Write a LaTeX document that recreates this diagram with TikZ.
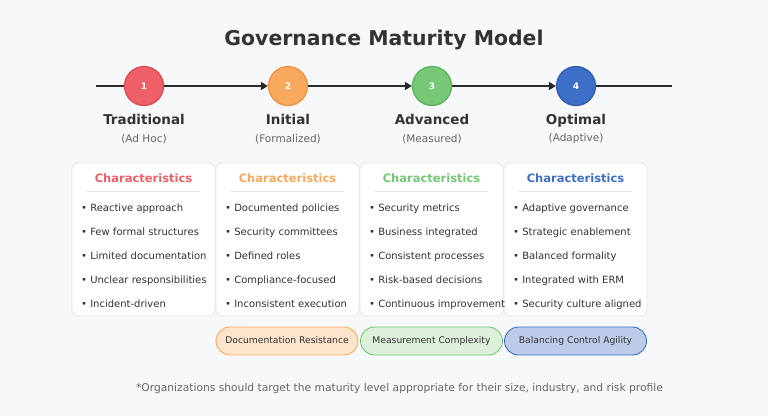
\documentclass[tikz,border=0pt]{standalone}
\usepackage{fontspec}
\setmainfont{DejaVu Sans}
\usetikzlibrary{arrows.meta}

\definecolor{bgpage}{HTML}{F7F8FA}
\definecolor{inkdark}{HTML}{333333}
\definecolor{inkgray}{HTML}{666666}
\definecolor{cardline}{HTML}{E2E4E8}
\definecolor{redlvl}{HTML}{EE5F67}
\definecolor{redrim}{HTML}{D9474F}
\definecolor{orglvl}{HTML}{F9A95D}
\definecolor{orgrim}{HTML}{EE9240}
\definecolor{grnlvl}{HTML}{76C776}
\definecolor{grnrim}{HTML}{5AAF5A}
\definecolor{blulvl}{HTML}{3E6FC8}
\definecolor{blurim}{HTML}{2F5BAA}
\definecolor{orgpale}{HTML}{FDE5CB}
\definecolor{grnpale}{HTML}{DDF1DA}
\definecolor{blupale}{HTML}{BCCBE8}

\begin{document}
\begin{tikzpicture}[x=1pt,y=-1pt,
  level/.style={circle,minimum size=39pt,inner sep=0pt,line width=1.2pt,text=white,font=\fontsize{9}{9}\selectfont\bfseries},
  stagename/.style={anchor=base,font=\fontsize{13.5}{14}\selectfont\bfseries,text=inkdark},
  stagesub/.style={font=\fontsize{10.5}{11}\selectfont,text=inkgray},
  card/.style={draw=cardline,fill=white,rounded corners=5pt,line width=0.8pt,minimum width=143pt,minimum height=153pt,inner sep=0pt},
  cardhead/.style={font=\fontsize{11.5}{12}\selectfont\bfseries},
  item/.style={anchor=base west,inner sep=0pt,font=\fontsize{10}{11}\selectfont,text=inkdark},
  pill/.style={rounded corners=14pt,line width=0.9pt,minimum width=142pt,minimum height=28pt,inner sep=0pt,text height=7pt,text depth=2pt,font=\fontsize{9.2}{10}\selectfont,text=inkdark},
  flow/.style={line width=2.3pt,draw=inkdark!80!black}]
\tikzstyle{every node}+=[inner sep=0pt]
\useasboundingbox (0,0) rectangle (768,416);
\fill [bgpage] (0,0) rectangle (768,416);

% title
\node (title) at (384,40) {\fontsize{20.4}{21}\selectfont\bfseries\color{inkdark}Governance Maturity Model};

% timeline
\coordinate (start) at (96,86);
\coordinate (stop) at (672,86);
\node [level,fill=redlvl,draw=redrim] (c1) at (144,86) {1};
\node [level,fill=orglvl,draw=orgrim] (c2) at (288,86) {2};
\node [level,fill=grnlvl,draw=grnrim] (c3) at (432,86) {3};
\node [level,fill=blulvl,draw=blurim] (c4) at (576,86) {4};
\draw [flow] (start) -- (c1);
\draw [flow,-{Triangle[length=7pt,width=8pt]}] (c1) -- (c2);
\draw [flow,-{Triangle[length=7pt,width=8pt]}] (c2) -- (c3);
\draw [flow,-{Triangle[length=7pt,width=8pt]}] (c3) -- (c4);
\draw [flow] (c4) -- (stop);

% stage names
\node [stagename] (l1) at (144,124) {Traditional};
\node [stagename] (l2) at (288,124) {Initial};
\node [stagename] (l3) at (432,124) {Advanced};
\node [stagename] (l4) at (576,124) {Optimal};
\node [stagesub] (s1) at (144,139) {(Ad Hoc)};
\node [stagesub] (s2) at (288,139) {(Formalized)};
\node [stagesub] (s3) at (432,139) {(Measured)};
\node [stagesub] (s4) at (576,139) {(Adaptive)};

% cards
\node [card] (k1) at (143.5,239.5) {};
\node [card] (k2) at (287.5,239.5) {};
\node [card] (k3) at (431.5,239.5) {};
\node [card] (k4) at (575.5,239.5) {};
\node [cardhead,text=redlvl] (h1) at (143.5,178) {Characteristics};
\node [cardhead,text=orglvl] (h2) at (287.5,178) {Characteristics};
\node [cardhead,text=grnlvl] (h3) at (431.5,178) {Characteristics};
\node [cardhead,text=blulvl] (h4) at (575.5,178) {Characteristics};
\draw [cardline,line width=0.8pt] (87,191) -- (200,191);
\draw [cardline,line width=0.8pt] (231,191) -- (344,191);
\draw [cardline,line width=0.8pt] (375,191) -- (488,191);
\draw [cardline,line width=0.8pt] (519,191) -- (632,191);

% items
\node [item] (a1) at (81,211) {• Reactive approach};
\node [item] (a2) at (81,235) {• Few formal structures};
\node [item] (a3) at (81,259) {• Limited documentation};
\node [item] (a4) at (81,283) {• Unclear responsibilities};
\node [item] (a5) at (81,307) {• Incident-driven};
\node [item] (b1) at (225,211) {• Documented policies};
\node [item] (b2) at (225,235) {• Security committees};
\node [item] (b3) at (225,259) {• Defined roles};
\node [item] (b4) at (225,283) {• Compliance-focused};
\node [item] (b5) at (225,307) {• Inconsistent execution};
\node [item] (d1) at (369,211) {• Security metrics};
\node [item] (d2) at (369,235) {• Business integrated};
\node [item] (d3) at (369,259) {• Consistent processes};
\node [item] (d4) at (369,283) {• Risk-based decisions};
\node [item] (d5) at (369,307) {• Continuous improvement};
\node [item] (e1) at (513,211) {• Adaptive governance};
\node [item] (e2) at (513,235) {• Strategic enablement};
\node [item] (e3) at (513,259) {• Balanced formality};
\node [item] (e4) at (513,283) {• Integrated with ERM};
\node [item] (e5) at (513,307) {• Security culture aligned};

% challenges
\node [pill,fill=orgpale,draw=orglvl] (p2) at (287,341) {Documentation Resistance};
\node [pill,fill=grnpale,draw=grnlvl] (p3) at (431.5,341) {Measurement Complexity};
\node [pill,fill=blupale,draw=blulvl] (p4) at (575.5,341) {Balancing Control Agility};

% note
\node [font=\fontsize{10.7}{12}\selectfont,text=inkgray] (note) at (399.5,389) {*Organizations should target the maturity level appropriate for their size, industry, and risk profile};
\end{tikzpicture}
\end{document}
